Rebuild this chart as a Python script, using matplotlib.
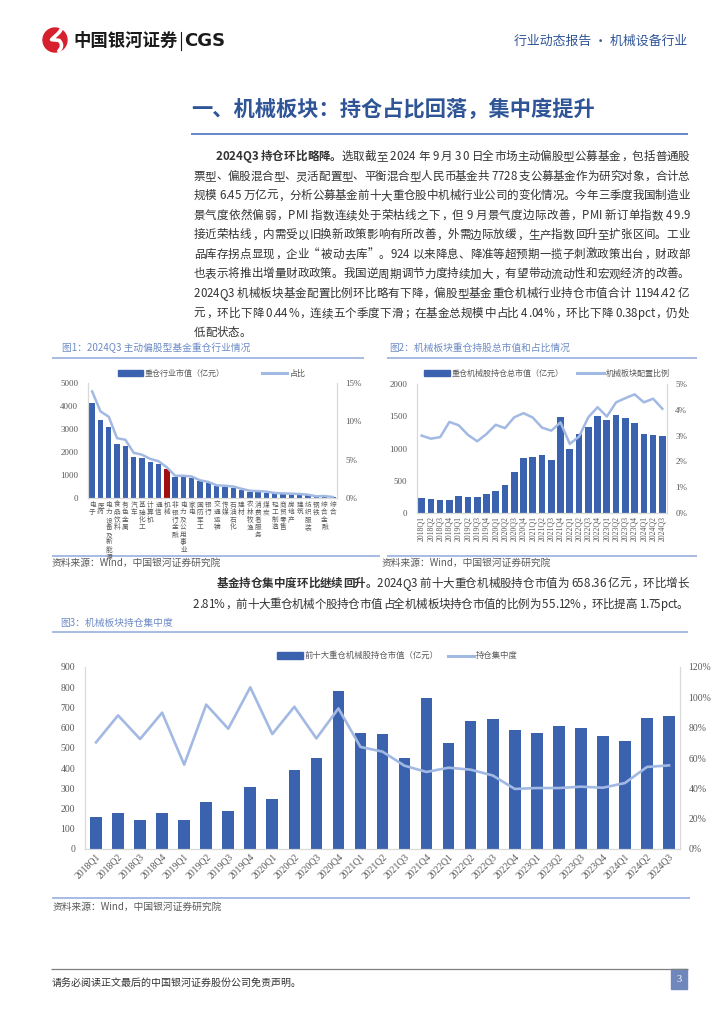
import numpy as np
import matplotlib
matplotlib.use("Agg")
import matplotlib.pyplot as plt
from matplotlib.patches import Circle, Rectangle
from matplotlib.font_manager import FontProperties, findfont, get_font

plt.rcParams['font.family'] = ['Noto Sans CJK SC', 'DejaVu Sans']

# ---------------- data ----------------
ind_names = ['电子', '医药', '电力设备及新能源', '食品饮料', '有色金属', '汽车', '基础化工',
             '计算机', '通信', '机械', '非银行金融', '电力及公用事业', '家电', '国防军工',
             '银行', '交通运输', '传媒', '石油石化', '建材', '农林牧渔', '消费者服务', '煤炭',
             '轻工制造', '商贸零售', '房地产', '建筑', '纺织服装', '钢铁', '综合金融', '综合']
ind_value = [4130, 3390, 3100, 2350, 2275, 1800, 1740, 1550, 1465, 1245, 913, 900, 870, 725,
             650, 507, 490, 435, 362, 275, 260, 232, 203, 160, 145, 130, 116, 72, 58, 43]
ind_share = [13.9, 11.3, 10.6, 7.8, 7.6, 5.9, 5.65, 5.1, 4.8, 4.0, 2.9, 2.9, 2.8, 2.3,
             2.1, 1.65, 1.6, 1.5, 1.2, 0.95, 0.9, 0.83, 0.65, 0.6, 0.56, 0.52, 0.43, 0.22, 0.26, 0.13]

quarters = ['2018Q1', '2018Q2', '2018Q3', '2018Q4', '2019Q1', '2019Q2', '2019Q3', '2019Q4',
            '2020Q1', '2020Q2', '2020Q3', '2020Q4', '2021Q1', '2021Q2', '2021Q3', '2021Q4',
            '2022Q1', '2022Q2', '2022Q3', '2022Q4', '2023Q1', '2023Q2', '2023Q3', '2023Q4',
            '2024Q1', '2024Q2', '2024Q3']
mach_value = [234, 213, 203, 208, 265, 255, 244, 301, 338, 431, 629, 852, 868, 904, 821, 1486,
              992, 1221, 1340, 1506, 1444, 1522, 1470, 1392, 1226, 1216, 1194.42]
mach_ratio = [3.00, 2.88, 2.94, 3.53, 3.40, 3.03, 2.78, 3.06, 3.42, 3.29, 3.71, 3.87, 3.70, 3.31,
              3.19, 3.51, 2.68, 2.96, 3.71, 4.10, 3.74, 4.29, 4.45, 4.60, 4.29, 4.43, 4.04]
top10_value = [158, 178, 143, 178, 143, 230, 188, 307, 249, 392, 451, 781, 574, 570, 450, 748,
               524, 634, 643, 590, 574, 608, 598, 559, 532, 648, 658.36]
top10_conc = [70.3, 88.1, 72.5, 89.9, 55.6, 95.2, 79.3, 106.6, 75.8, 93.8, 72.9, 92.7, 67.3, 64.2,
              54.9, 50.8, 53.6, 52.3, 48.5, 39.6, 40.2, 40.2, 41.1, 40.4, 43.5, 54.1, 55.12]

para1 = [
    [('2024Q3 持仓环比略降。', True), ('选取截至 2024 年 9 月 30 日全市场主动偏股型公募基金，包括普通股', False)],
    [('票型、偏股混合型、灵活配置型、平衡混合型人民币基金共 7728 支公募基金作为研究对象，合计总', False)],
    [('规模 6.45 万亿元，分析公募基金前十大重仓股中机械行业公司的变化情况。今年三季度我国制造业', False)],
    [('景气度依然偏弱，PMI 指数连续处于荣枯线之下，但 9 月景气度边际改善，PMI 新订单指数 49.9', False)],
    [('接近荣枯线，内需受以旧换新政策影响有所改善，外需边际放缓，生产指数回升至扩张区间。工业', False)],
    [('品库存拐点显现，企业“被动去库”。924 以来降息、降准等超预期一揽子刺激政策出台，财政部', False)],
    [('也表示将推出增量财政政策。我国逆周期调节力度持续加大，有望带动流动性和宏观经济的改善。', False)],
    [('2024Q3 机械板块基金配置比例环比略有下降，偏股型基金重仓机械行业持仓市值合计 1194.42 亿', False)],
    [('元，环比下降 0.44%，连续五个季度下滑；在基金总规模中占比 4.04%，环比下降 0.38pct，仍处', False)],
    [('低配状态。', False)],
]
para2 = [
    [('基金持仓集中度环比继续回升。', True), ('2024Q3 前十大重仓机械股持仓市值为 658.36 亿元，环比增长', False)],
    [('2.81%，前十大重仓机械个股持仓市值占全机械板块持仓市值的比例为 55.12%，环比提高 1.75pct。', False)],
]

# ---------------- style ----------------
W, H = 724, 1024
BLUE = '#3a62ae'
RED = '#a00f0f'
LINE = '#a2b9e3'
TITLE = '#2f5597'
CAP = '#6d8bc6'
RULE = '#8faadc'
GRAY = '#595959'
TXT = '#333333'
SERIF = ['Liberation Serif', 'DejaVu Serif']
BODY = 8.3

fig = plt.figure(figsize=(7.24, 10.24), dpi=100)
page = fig.add_axes([0, 0, 1, 1])
page.set_xlim(0, W)
page.set_ylim(H, 0)
page.axis('off')


def px_axes(x0, y0, x1, y1):
    return fig.add_axes([x0 / W, 1 - y1 / H, (x1 - x0) / W, (y1 - y0) / H])


FPATH = {False: findfont(FontProperties(family='Noto Sans CJK SC')),
         True: findfont(FontProperties(family='Noto Sans CJK SC', weight='bold'))}


def glyph_metrics(ch, size, bold):
    # advance and left bearing in pixels (figure is 100 dpi)
    em = size * 100 / 72
    if ch in '“”':
        return em, 0.0
    try:
        f = get_font(FPATH[bold])
        f.set_size(size, 100)
        g = f.load_char(ord(ch))
        return g.linearHoriAdvance / 65536.0, g.horiBearingX / 64.0
    except Exception:
        if ord(ch) > 0x2000:
            return em, 0.0
        return (0.25 if ch == ' ' else 0.55) * em, 0.0


def justify(segs, x0, x1, y, size=BODY, fill=True):
    chars = []
    for s, b in segs:
        for ch in s:
            adv, lsb = glyph_metrics(ch, size, b)
            chars.append((ch, b, adv, lsb))
    total = sum(c[2] for c in chars)
    gap = (x1 - x0 - total) / (len(chars) - 1) if fill else 0.0
    x = x0
    base = y + 0.36 * size * 100 / 72
    for ch, b, adv, lsb in chars:
        wt = 'bold' if b else 'normal'
        if ch == '“':
            page.text(x + adv - 1, base, ch, fontsize=size, va='baseline', ha='right',
                      color=TXT, fontweight=wt)
        elif ch == '”':
            page.text(x + 1, base, ch, fontsize=size, va='baseline', ha='left',
                      color=TXT, fontweight=wt)
        elif ch != ' ':
            page.text(x + lsb, base, ch, fontsize=size, va='baseline', ha='left', color=TXT,
                      fontweight=wt)
        x += adv + gap


def hline(x0, x1, y, color=RULE, lw=1.1):
    page.plot([x0, x1], [y, y], color=color, lw=lw, solid_capstyle='butt')


# ---------------- header ----------------
page.add_patch(Circle((55, 40), 12, color='#d7202e'))
t = np.linspace(0, 1, 30)
sx = 55 + 6.5 * np.cos(np.pi * (1.2 * t + 0.1)) * (1 - 2 * (t > 0.5))
sy = 29 + 22 * t
page.plot(sx, sy, color='white', lw=2.6, solid_capstyle='round')
page.text(73, 41, '中国银河证券', fontsize=12.5, fontweight='bold', color='#1a1a1a',
          va='center', ha='left')
page.plot([180.5, 180.5], [32, 50], color='#1a1a1a', lw=0.8)
page.text(184, 41, 'CGS', fontsize=13, fontweight='bold', color='#1a1a1a',
          va='center', ha='left', family=['DejaVu Sans'])
page.text(687, 41, '行业动态报告 · 机械设备行业', fontsize=9.3, color=TITLE,
          va='center', ha='right')

page.text(191, 109, '一、机械板块：持仓占比回落，集中度提升', fontsize=15.3, fontweight='bold',
          color=TITLE, va='center', ha='left')
hline(191, 688, 134, color='#4a72c0', lw=1.2)

# ---------------- paragraph 1 ----------------
for i, segs in enumerate(para1):
    x0 = 215 if i == 0 else 193
    justify(segs, x0, 689, 156 + 19.55 * i, fill=(i != len(para1) - 1))

# ---------------- figure 1 ----------------
page.text(62, 348, '图1：2024Q3 主动偏股型基金重仓行业情况', fontsize=7, color=CAP,
          va='center', ha='left')
hline(52, 364, 358)
page.add_patch(Rectangle((118, 370), 25, 6, color=BLUE))
page.text(145, 373, '重仓行业市值（亿元）', fontsize=5.8, color=GRAY, va='center', ha='left')
page.plot([262, 287], [373, 373], color=LINE, lw=2.2)
page.text(290, 373, '占比', fontsize=5.8, color=GRAY, va='center', ha='left')

ax1 = px_axes(88, 383, 337, 498)
x1 = np.arange(len(ind_names))
ax1.bar(x1, ind_value, width=0.64,
        color=[RED if n == '机械' else BLUE for n in ind_names], zorder=2)
ax1.set_xlim(-0.5, len(ind_names) - 0.5)
ax1.set_ylim(0, 5000)
ax1.set_yticks([0, 1000, 2000, 3000, 4000, 5000],
               ['0', '1000', '2000', '3000', '4000', '5000'], fontsize=6.5, family=SERIF)
ax1.set_xticks(x1, ['\n'.join(n) for n in ind_names], fontsize=4.8, linespacing=0.92)
ax1r = ax1.twinx()
ax1r.plot(x1, ind_share, color=LINE, lw=1.8, zorder=3)
ax1r.set_ylim(0, 15)
ax1r.set_yticks([0, 5, 10, 15], ['0%', '5%', '10%', '15%'], fontsize=6.5, family=SERIF)

hline(52, 380, 556)
page.text(52, 563, '资料来源：Wind，中国银河证券研究院', fontsize=7, color=GRAY,
          va='center', ha='left', style='italic')

# ---------------- figure 2 ----------------
page.text(389, 348, '图2：机械板块重仓持股总市值和占比情况', fontsize=7, color=CAP,
          va='center', ha='left')
hline(387, 697, 358)
page.add_patch(Rectangle((424, 370), 26, 6, color=BLUE))
page.text(452, 373, '重仓机械股持仓总市值（亿元）', fontsize=5.8, color=GRAY, va='center', ha='left')
page.plot([577, 604], [373, 373], color=LINE, lw=2.2)
page.text(606, 373, '机械板块配置比例', fontsize=5.8, color=GRAY, va='center', ha='left')

ax2 = px_axes(417, 384, 667, 513)
x2 = np.arange(len(quarters))
ax2.bar(x2, mach_value, width=0.72, color=BLUE, zorder=2)
ax2.set_xlim(-0.5, len(quarters) - 0.5)
ax2.set_ylim(0, 2000)
ax2.set_yticks([0, 500, 1000, 1500, 2000], ['0', '500', '1000', '1500', '2000'],
               fontsize=6.5, family=SERIF)
ax2.set_xticks(x2, quarters, fontsize=5.6, rotation=90, family=SERIF)
ax2r = ax2.twinx()
ax2r.plot(x2, mach_ratio, color=LINE, lw=1.8, zorder=3)
ax2r.set_ylim(0, 5)
ax2r.set_yticks([0, 1, 2, 3, 4, 5], ['0%', '1%', '2%', '3%', '4%', '5%'],
                fontsize=6.5, family=SERIF)

hline(387, 697, 556)
page.text(382, 563, '资料来源：Wind，中国银河证券研究院', fontsize=7, color=GRAY,
          va='center', ha='left', style='italic')

# ---------------- paragraph 2 ----------------
justify(para2[0], 216, 688, 583)
justify(para2[1], 192, 688, 603.5)

# ---------------- figure 3 ----------------
page.text(60, 623, '图3：机械板块持仓集中度', fontsize=7, color=CAP, va='center', ha='left')
hline(52, 688, 632)
page.add_patch(Rectangle((277, 652), 26, 7, color=BLUE))
page.text(305, 655.5, '前十大重仓机械股持仓市值（亿元）', fontsize=6, color=GRAY,
          va='center', ha='left')
page.plot([448, 474], [655.5, 655.5], color=LINE, lw=2.2)
page.text(476, 655.5, '持仓集中度', fontsize=6, color=GRAY, va='center', ha='left')

ax3 = px_axes(85, 667, 680, 849)
x3 = np.arange(len(quarters))
ax3.bar(x3, top10_value, width=0.53, color=BLUE, zorder=2)
ax3.set_xlim(-0.5, len(quarters) - 0.5)
ax3.set_ylim(0, 900)
ax3.set_yticks(np.arange(0, 901, 100), [str(v) for v in range(0, 901, 100)],
               fontsize=7, family=SERIF)
ax3.set_xticks(x3, quarters, fontsize=7, rotation=45, ha='right',
               rotation_mode='anchor', family=SERIF)
ax3r = ax3.twinx()
ax3r.plot(x3, top10_conc, color=LINE, lw=1.9, zorder=3)
ax3r.set_ylim(0, 120)
ax3r.set_yticks(np.arange(0, 121, 20), [f'{v}%' for v in range(0, 121, 20)],
                fontsize=7, family=SERIF)

hline(52, 690, 898)
page.text(53, 907, '资料来源：Wind，中国银河证券研究院', fontsize=7, color=GRAY,
          va='center', ha='left', style='italic')

for a, ar in ((ax1, ax1r), (ax2, ax2r), (ax3, ax3r)):
    for b in (a, ar):
        b.spines['top'].set_visible(False)
        for s in ('left', 'right', 'bottom'):
            b.spines[s].set_color('#d9d9d9')
            b.spines[s].set_linewidth(0.8)
        b.tick_params(length=0, colors=GRAY)
        b.patch.set_visible(False)
    a.tick_params(axis='y', pad=7)
    ar.tick_params(axis='y', pad=6)
    a.tick_params(axis='x', pad=2)

# ---------------- footer ----------------
hline(51, 688, 969, color='#7f7f7f', lw=0.9)
page.text(52, 983, '请务必阅读正文最后的中国银河证券股份公司免责声明。', fontsize=7.2,
          color=TXT, va='center', ha='left')
page.add_patch(Rectangle((671, 969), 16, 20, color='#6f87bc'))
page.text(679, 979, '3', fontsize=7.5, color='white', va='center', ha='center', family=SERIF)

fig.savefig('out.png', dpi=100)
